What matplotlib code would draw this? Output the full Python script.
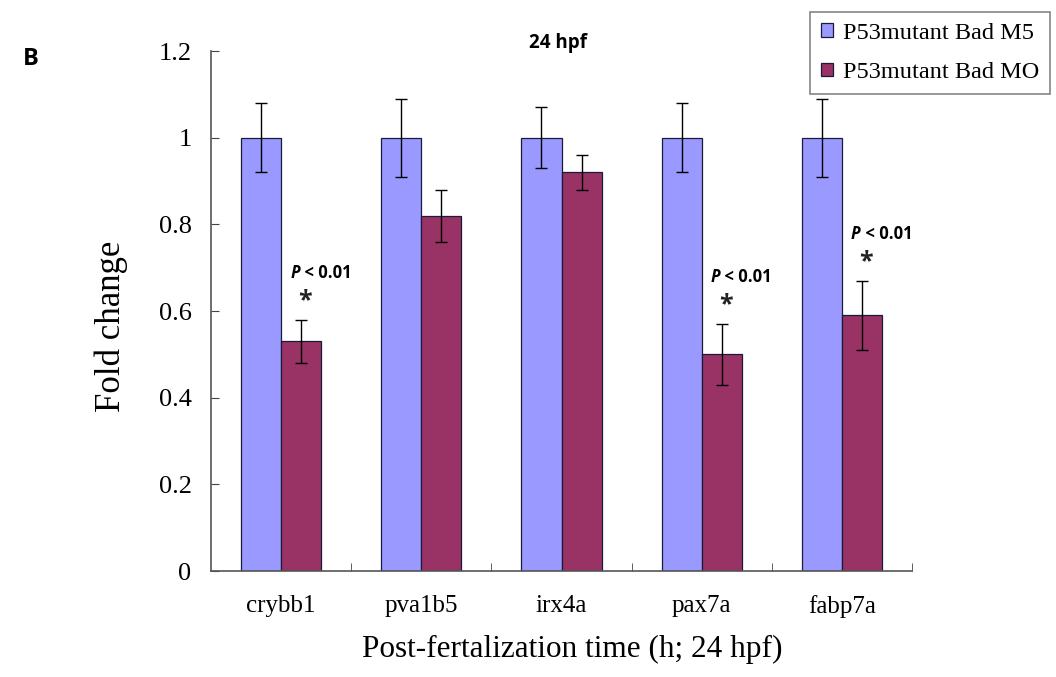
import matplotlib
matplotlib.use("Agg")
import matplotlib.pyplot as plt
from matplotlib.ticker import FixedLocator
import numpy as np

# data
genes = ["crybb1", "pva1b5", "irx4a", "pax7a", "fabp7a"]
m5_vals = [1.0, 1.0, 1.0, 1.0, 1.0]
m5_err = [0.08, 0.09, 0.07, 0.08, 0.09]
mo_vals = [0.53, 0.82, 0.92, 0.50, 0.59]
mo_err = [0.05, 0.06, 0.04, 0.07, 0.08]
significant = [True, False, False, True, True]
series_names = ["P53mutant Bad M5", "P53mutant Bad MO"]

serif = ["Liberation Serif", "DejaVu Serif"]
sans = ["Open Sans", "DejaVu Sans"]
plt.rcParams["font.family"] = serif

fig = plt.figure(figsize=(10.56, 6.77), dpi=100)
ax = fig.add_axes([211 / 1056, 1 - 571 / 677, 701 / 1056, 520 / 677])

x = np.arange(len(genes))
w = 0.286
err_kw = dict(ecolor="black", elinewidth=1, capsize=4, capthick=1)
ax.bar(x - w / 2, m5_vals, w, yerr=m5_err, color="#9999FF",
       edgecolor="#1a1a3a", linewidth=0.9, error_kw=err_kw, label=series_names[0])
ax.bar(x + w / 2, mo_vals, w, yerr=mo_err, color="#993366",
       edgecolor="#1a1a3a", linewidth=0.9, error_kw=err_kw, label=series_names[1])

# significance marks above the MO bars
for i, sig in enumerate(significant):
    if not sig:
        continue
    top = mo_vals[i] + mo_err[i]
    ax.annotate("*", (x[i] + w / 2, top), xytext=(3, 5), textcoords="offset points",
                ha="center", va="bottom", fontsize=18, fontweight="bold",
                family=sans, color="#222222")
    ax.annotate("P", (x[i] + w / 2, top), xytext=(-1, 27), textcoords="offset points",
                ha="right", va="bottom", fontsize=12, fontweight="bold",
                fontstyle="italic", family=sans)
    ax.annotate(" < 0.01", (x[i] + w / 2, top), xytext=(-1, 27), textcoords="offset points",
                ha="left", va="bottom", fontsize=12, fontweight="bold", family=sans)

ax.set_xlim(-0.5, len(genes) - 0.5)
ax.set_ylim(0, 1.2)
ax.set_yticks(np.arange(0, 1.21, 0.2))
ax.set_yticklabels(["0", "0.2", "0.4", "0.6", "0.8", "1", "1.2"])
ax.set_xticks(x)
ax.set_xticklabels(genes)
ax.xaxis.set_minor_locator(FixedLocator(np.arange(0.5, len(genes), 1.0)))
ax.tick_params(axis="x", which="major", length=0, pad=17, labelsize=18)
ax.tick_params(axis="x", which="minor", direction="in", length=6, color="#444444")
ax.tick_params(axis="y", direction="in", length=6, pad=14, labelsize=19, color="#444444")

for s in ["top", "right"]:
    ax.spines[s].set_visible(False)
for s in ["left", "bottom"]:
    ax.spines[s].set_color("#555555")
    ax.spines[s].set_linewidth(1.2)

ax.set_ylabel("Fold change", fontsize=25)
ax.yaxis.set_label_coords(-0.118, 0.47)
ax.set_xlabel("Post-fertalization time (h; 24 hpf)", fontsize=22.5, va="top")
ax.xaxis.set_label_coords(0.515, -0.122)

fig.text(558 / 1056, 1 - 43 / 677, "24 hpf", ha="center", va="center",
         fontsize=13.5, fontweight="bold", family=sans)
fig.text(31 / 1056, 1 - 59 / 677, "B", ha="center", va="center",
         fontsize=17, fontweight="bold", family=sans)

leg = fig.legend(loc="upper right", bbox_to_anchor=(1050 / 1056, 1 - 12 / 677),
                 fontsize=17.5, frameon=True, fancybox=False, handlelength=0.5,
                 handleheight=0.5, handletextpad=0.4, borderpad=0.45,
                 labelspacing=0.75, borderaxespad=0)
leg.get_frame().set_edgecolor("#666666")
leg.get_frame().set_linewidth(1.2)

fig.savefig("out.png", dpi=100)
